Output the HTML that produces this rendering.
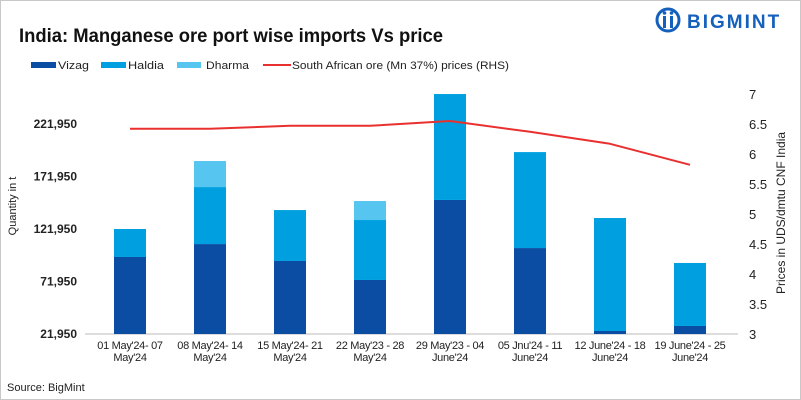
<!DOCTYPE html>
<html><head><meta charset="utf-8"><style>
body{margin:0;background:#fff;}
#wrap{position:relative;width:801px;height:400px;font-family:"Liberation Sans",sans-serif;overflow:hidden;border:1px solid #c8c8c8;box-sizing:border-box;}
</style></head><body>
<div id="wrap">
<svg id="chart" width="801" height="400">
<text x="18" y="41" font-size="19" font-weight="bold" fill="#111" textLength="424" lengthAdjust="spacingAndGlyphs">India: Manganese ore port wise imports Vs price</text>
<g>
<circle cx="667" cy="19" r="11" fill="none" stroke="#1560bd" stroke-width="3"/>
<rect x="662" y="15" width="3" height="12" fill="#1560bd"/><rect x="669" y="15" width="3" height="12" fill="#1560bd"/>
<circle cx="663.5" cy="12" r="1.8" fill="#1560bd"/><circle cx="670.5" cy="12" r="1.8" fill="#1560bd"/>
<text x="686" y="27" font-size="19" font-weight="bold" fill="#1560bd" letter-spacing="2">BIGMINT</text>
</g>
<g id="legend" font-size="11" fill="#222">
<g><rect x="30" y="61" width="25" height="6" fill="#0a4da2"/><text x="57" y="68" textLength="31" lengthAdjust="spacingAndGlyphs">Vizag</text></g>
<g><rect x="100" y="61" width="25" height="6" fill="#00a0e0"/><text x="127" y="68" textLength="36" lengthAdjust="spacingAndGlyphs">Haldia</text></g>
<g><rect x="176" y="61" width="24" height="6" fill="#56c5f0"/><text x="205" y="68" textLength="43" lengthAdjust="spacingAndGlyphs">Dharma</text></g>
<g><rect x="262" y="63" width="28" height="2" fill="#e8312f"/><text x="291" y="68" textLength="217" lengthAdjust="spacingAndGlyphs">South African ore (Mn 37%) prices (RHS)</text></g>
</g>
<text transform="translate(15,205) rotate(-90)" font-size="11" fill="#222" text-anchor="middle">Quantity in t</text>
<text transform="translate(784,212) rotate(-90)" font-size="12" fill="#222" text-anchor="middle">Prices in UDS/dmtu CNF India</text>
<text x="6" y="390" font-size="11" fill="#222">Source: BigMint</text>
<line x1="84" y1="333" x2="737" y2="333" stroke="#bbb"/>
<g id="bars"></g><g id="ticks"></g>
</svg>
<script>
const categories=[["01 May'24- 07","May'24"],["08 May'24- 14","May'24"],["15 May'24- 21","May'24"],["22 May'23 - 28","May'24"],["29 May'23 - 04","June'24"],["05 Jnu'24 - 11","June'24"],["12 June'24 - 18","June'24"],["19 June'24 - 25","June'24"]];
const vizag=[95300,107600,91500,73400,149600,103800,24800,29600];
const haldia=[26650,54300,48500,57100,100900,91400,107600,60000];
const dharma=[0,24800,0,18100,0,0,0,0];
const price=[6.42,6.42,6.47,6.47,6.55,6.37,6.17,5.82];
const leftTicks=[21950,71950,121950,171950,221950];
const rightTicks=[3,3.5,4,4.5,5,5.5,6,6.5,7];
const NS="http://www.w3.org/2000/svg";
const AXMIN=21950;
const yL=v=>333-(Math.max(v,AXMIN)-AXMIN)/50000*52.5;
const yR=v=>333-(v-3)/0.5*30;
const xC=i=>84+80*i+45;
const bars=document.getElementById('bars'),ticks=document.getElementById('ticks');
function mk(t,a,p){const e=document.createElementNS(NS,t);for(const k in a)e.setAttribute(k,a[k]);p.appendChild(e);return e;}
leftTicks.forEach(v=>{const t=mk('text',{x:76,y:yL(v)+4,'font-size':12,'font-weight':'bold','text-anchor':'end',fill:'#222'},ticks);t.textContent=v.toLocaleString('en-US');

});
rightTicks.forEach(v=>{const t=mk('text',{x:748,y:yR(v)+5,'font-size':13,fill:'#222'},ticks);t.textContent=String(v);

});
categories.forEach((c,i)=>{
  const x=xC(i)-16;let base=0;
  [[vizag,'#0a4da2','vizag'],[haldia,'#00a0e0','haldia'],[dharma,'#56c5f0','dharma']].forEach(([arr,col,n])=>{
    if(arr[i]<=0)return;
    const top=yL(base+arr[i]),bot=yL(base);
    const r=mk('rect',{x:x,y:top,width:32,height:Math.max(0,bot-top),fill:col},bars);
    
    
    base+=arr[i];});
  c.forEach((l,j)=>{const t=mk('text',{x:xC(i),y:348+j*12,'font-size':11,'text-anchor':'middle',fill:'#222','letter-spacing':'-0.3'},ticks);t.textContent=l;
  
  });
});
let d='';price.forEach((v,i)=>{d+=(i?'L':'M')+xC(i)+','+yR(v);});
const p=mk('path',{d:d,fill:'none',stroke:'#e8312f','stroke-width':2,'stroke-linejoin':'round'},bars);


</script>
</div>
</body></html>
